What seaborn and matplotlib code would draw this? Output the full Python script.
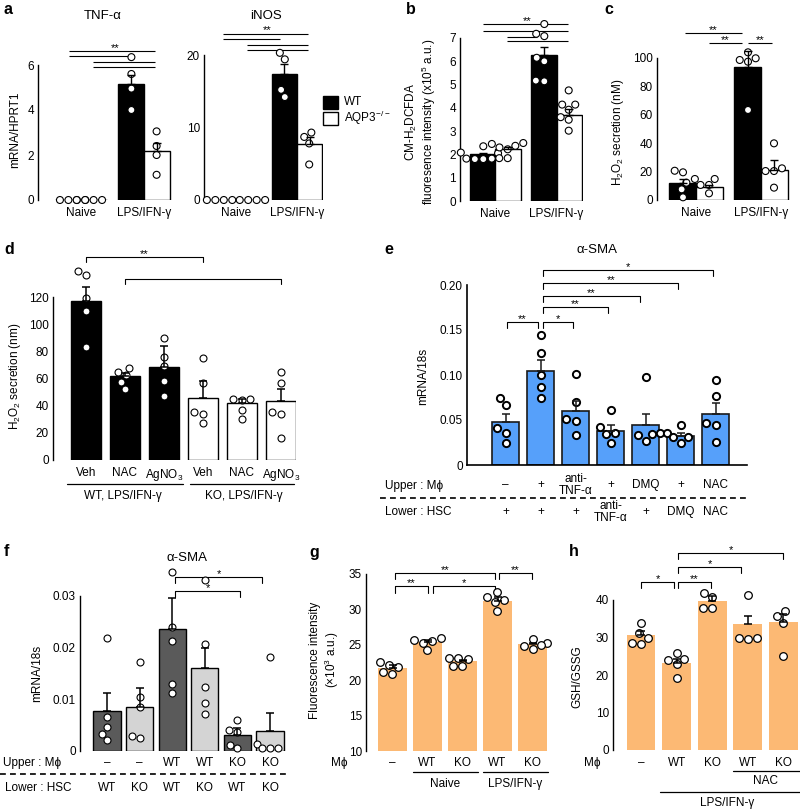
import numpy as np
import pandas as pd
import seaborn as sns
import matplotlib.pyplot as plt
from matplotlib.lines import Line2D
from matplotlib.patches import Rectangle
from matplotlib.transforms import blended_transform_factory

###############################################################################
# Values
###############################################################################

cond = ["Naive", "LPS/IFN-γ"]
geno = ["WT", "KO"]

# a: bar order = Naive WT, Naive KO, LPS WT, LPS KO
tnf_mean = [0.0, 0.0, 5.15, 2.17]
tnf_sem = [0.0, 0.0, 0.40, 0.38]
tnf_pts = [[0, 0, 0, 0], [0, 0, 0, 0], [6.35, 5.6, 4.95, 4.0], [3.05, 2.4, 2.0, 1.12]]

inos_mean = [0.0, 0.0, 17.4, 7.7]
inos_sem = [0.0, 0.0, 1.3, 1.0]
inos_pts = [[0, 0, 0, 0], [0, 0, 0, 0], [20.3, 19.4, 15.2, 14.2], [9.3, 8.7, 7.8, 4.9]]

# b
dcf_mean = [2.0, 2.23, 6.25, 3.71]
dcf_sem = [0.08, 0.09, 0.35, 0.24]
dcf_pts = [[2.35, 2.08, 2.05, 1.82, 1.8, 1.8, 1.82],
           [2.49, 2.45, 2.37, 2.30, 2.22, 1.84, 1.84],
           [7.6, 7.18, 7.08, 6.15, 6.0, 5.17, 5.14],
           [4.75, 4.14, 4.14, 3.92, 3.6, 3.49, 3.02]]

# c
c_mean = [12.2, 8.9, 93.9, 21.1]
c_sem = [2.6, 1.6, 11.1, 7.1]
c_pts = [[20.6, 19.5, 12.2, 7.5, 1.9], [14.8, 14.8, 10.6, 10.6, 4.7],
         [104, 99.8, 98.6, 97.4, 63.4], [39.9, 22.3, 20.4, 20.4, 8.7]]

# d
d_labels = ["Veh", "NAC", "AgNO$_3$", "Veh", "NAC", "AgNO$_3$"]
d_mean = [117, 61.5, 68.6, 45.8, 41.7, 43.4]
d_sem = [10, 2.2, 15.4, 12.5, 3.1, 8.8]
d_pts = [[139, 136, 119, 110, 83], [68, 64.5, 62.5, 57.6, 52.2], [90, 76, 69, 58, 47],
         [75, 57, 35, 34, 27], [44.7, 44.8, 44.1, 36.8, 30.1], [65, 57, 35, 34, 16]]

# e
e_mean = [0.048, 0.105, 0.060, 0.038, 0.044, 0.032, 0.057]
e_sem = [0.009, 0.012, 0.011, 0.006, 0.013, 0.004, 0.012]
e_pts = [[0.075, 0.067, 0.041, 0.036, 0.025], [0.144, 0.125, 0.100, 0.087, 0.075],
         [0.101, 0.070, 0.051, 0.049, 0.033], [0.061, 0.042, 0.036, 0.034, 0.025],
         [0.098, 0.036, 0.034, 0.033, 0.027], [0.044, 0.036, 0.031, 0.031, 0.025],
         [0.095, 0.077, 0.047, 0.044, 0.026]]
e_upper = ["–", "+", "anti-\nTNF-α", "+", "DMQ", "+", "NAC"]
e_lower = ["+", "+", "+", "anti-\nTNF-α", "+", "DMQ", "NAC"]

# f
f_mean = [0.0077, 0.0084, 0.0235, 0.0160, 0.0031, 0.0038]
f_sem = [0.0035, 0.0037, 0.0061, 0.0040, 0.0013, 0.0035]
f_pts = [[0.0218, 0.0066, 0.0046, 0.0033, 0.0021], [0.0172, 0.0103, 0.0085, 0.0029, 0.0024],
         [0.0347, 0.0240, 0.0213, 0.0130, 0.0112], [0.0331, 0.0206, 0.0123, 0.0092, 0.0070],
         [0.0059, 0.0040, 0.0036, 0.0011, 0.0005], [0.0181, 0.0012, 0.0004, 0.0004, 0.0005]]
f_upper = ["–", "–", "WT", "WT", "KO", "KO"]
f_lower = ["WT", "KO", "WT", "KO", "WT", "KO"]

# g
g_mean = [21.7, 25.4, 22.7, 31.2, 25.1]
g_sem = [0.4, 0.3, 0.2, 0.5, 0.2]
g_pts = [[22.6, 22.2, 21.9, 21.2, 20.9], [26.0, 25.7, 25.5, 25.3, 24.2],
         [23.1, 23.1, 23.0, 22.0, 22.0], [32.4, 31.7, 31.3, 31.0, 29.8],
         [25.8, 25.2, 25.0, 24.9, 24.4]]
g_mphi = ["–", "WT", "KO", "WT", "KO"]

# h
h_mean = [30.7, 23.1, 39.8, 33.5, 34.2]
h_sem = [1.1, 1.2, 1.3, 2.2, 2.1]
h_pts = [[33.8, 31.1, 30.0, 28.5, 28.3], [25.9, 24.2, 24.0, 22.9, 19.1],
         [41.9, 40.7, 37.8, 37.8], [41.3, 29.8, 29.8, 29.5], [37.1, 35.8, 34.0, 25.1]]
h_mphi = ["–", "WT", "KO", "WT", "KO"]

###############################################################################
# Style and helpers
###############################################################################

sns.set_theme(style="white", rc={"text.color": "black", "axes.edgecolor": "black",
                                 "xtick.color": "black", "ytick.color": "black",
                                 "axes.labelcolor": "black"})
plt.rcParams["font.family"] = ["Liberation Sans", "DejaVu Sans"]
plt.rcParams["mathtext.default"] = "regular"
plt.rcParams["axes.linewidth"] = 1.0

W, H = 800, 810
fig = plt.figure(figsize=(W / 100, H / 100), dpi=100)
FS = 8.5


def fx(px):
    return px / W


def fy(py):
    return 1 - py / H


def new_ax(x0, x1, y0, y1):
    return fig.add_axes([fx(x0), fy(y1), (x1 - x0) / W, (y1 - y0) / H])


def finish(ax, xlim, ylim, yticks, ylabels=None, bottom=False):
    ax.set_xlim(*xlim)
    ax.set_ylim(*ylim)
    ax.set_yticks(yticks)
    if ylabels is not None:
        ax.set_yticklabels(ylabels)
    ax.set_xlabel("")
    ax.set_ylabel("")
    for s in ["top", "right"]:
        ax.spines[s].set_visible(False)
    ax.spines["bottom"].set_visible(bottom)
    ax.tick_params(axis="y", direction="in", length=5, width=1, labelsize=FS, pad=3)
    ax.tick_params(axis="x", length=0, labelsize=FS, pad=5)
    ax.patch.set_visible(False)


def errbars(ax, xpos, means, sems, color="black", lw=1.0):
    xpos, means, sems = np.asarray(xpos, float), np.asarray(means, float), np.asarray(sems, float)
    keep = sems > 0
    cont = ax.errorbar(xpos[keep], means[keep], yerr=[np.zeros(keep.sum()), sems[keep]],
                       fmt="none", ecolor=color, elinewidth=lw, capsize=3.2, capthick=lw, zorder=4)
    for art in list(cont[1]) + list(cont[2]):
        art.set_clip_on(False)


def paired(ax, means, sems, pts, width):
    bars = pd.DataFrame({"cond": np.repeat(cond, 2), "geno": geno * 2, "val": means})
    sns.barplot(data=bars, x="cond", y="val", hue="geno", order=cond, hue_order=geno,
                palette={"WT": "black", "KO": "white"}, saturation=1, width=width,
                edgecolor="black", linewidth=1, errorbar=None, legend=False, ax=ax)
    lab_c, lab_g, vals = [], [], []
    for i, p in enumerate(pts):
        lab_c += [cond[i // 2]] * len(p)
        lab_g += [geno[i % 2]] * len(p)
        vals += list(p)
    dots = pd.DataFrame({"cond": lab_c, "geno": lab_g, "val": vals})
    sns.swarmplot(data=dots, x="cond", y="val", hue="geno", order=cond, hue_order=geno,
                  dodge=True, palette={"WT": "white", "KO": "white"}, size=5,
                  edgecolor="black", linewidth=0.8, legend=False, clip_on=False,
                  zorder=3, ax=ax)
    xpos = np.array([0, 0, 1, 1]) + np.array([-1, 1, -1, 1]) * width / 4
    errbars(ax, xpos, means, sems)


def flat(ax, means, sems, pts, colors, width, edge="black", lw=1.0, dsize=5, dlw=0.8,
         ecol="black"):
    keys = [str(i) for i in range(len(means))]
    bars = pd.DataFrame({"k": keys, "val": means})
    if isinstance(colors, str):
        sns.barplot(data=bars, x="k", y="val", order=keys, color=colors, saturation=1,
                    width=width, edgecolor=edge, linewidth=lw, errorbar=None, ax=ax)
    else:
        sns.barplot(data=bars, x="k", y="val", hue="k", order=keys,
                    palette=dict(zip(keys, colors)), saturation=1, width=width,
                    edgecolor=edge, linewidth=lw, errorbar=None, legend=False, ax=ax)
    dots = pd.DataFrame({"k": [keys[i] for i, p in enumerate(pts) for _ in p],
                         "val": [v for p in pts for v in p]})
    sns.swarmplot(data=dots, x="k", y="val", order=keys, color="white", size=dsize,
                  edgecolor="black", linewidth=dlw, clip_on=False, zorder=3, ax=ax)
    errbars(ax, np.arange(len(means)), means, sems, color=ecol, lw=1.1)


def xl(x0, x1, c0, unit):
    # x limits so that category 0 falls at pixel c0 with "unit" pixels per category
    return ((x0 - c0) / unit, (x1 - c0) / unit)


def hline(ax, x0, x1, y):
    ax.plot([x0, x1], [y, y], color="black", lw=0.8, clip_on=False, solid_capstyle="butt")


def bracket(ax, x0, x1, y, drop, text=None):
    ax.plot([x0, x0, x1, x1], [y - drop, y, y, y - drop], color="black", lw=0.8,
            clip_on=False)
    if text:
        ax.text((x0 + x1) / 2, y, text, ha="center", va="baseline", fontsize=8)


def stars(ax, x, y, text="**"):
    ax.text(x, y, text, ha="center", va="baseline", fontsize=8)


def row_text(ax, labels, y_px):
    tr = blended_transform_factory(ax.transData, fig.transFigure)
    for i, s in enumerate(labels):
        ax.text(i, fy(y_px), s, transform=tr, ha="center", va="center", fontsize=FS,
                linespacing=0.95)


def group_line(ax, x0, x1, y_px, text=None, text_x=None, text_y=None):
    tr = blended_transform_factory(ax.transData, fig.transFigure)
    ax.add_line(Line2D([x0, x1], [fy(y_px)] * 2, transform=tr, color="black", lw=0.9,
                       clip_on=False))
    if text:
        ax.text(text_x, fy(text_y), text, transform=tr, ha="center", va="center", fontsize=FS)


def ylab(x_px, y_px, s):
    fig.text(fx(x_px), fy(y_px), s, rotation=90, ha="center", va="center", fontsize=FS,
             multialignment="center", linespacing=1.1)


def letter(x_px, y_px, s):
    fig.text(fx(x_px), fy(y_px), s, ha="left", va="center", fontsize=11.5, fontweight="bold")


###############################################################################
# a
###############################################################################
ax = new_ax(38, 172, 65, 200)
paired(ax, tnf_mean, tnf_sem, tnf_pts, 0.83)
finish(ax, xl(38, 172, 81, 63), (0, 6), [0, 2, 4, 6])
ax.set_xticks([0, 1])
ax.set_xticklabels(cond)
for x0, x1, y in [(-0.19, 1.17, 6.62), (-0.19, 0.75, 6.4), (0.19, 1.17, 6.13), (0.19, 1.17, 5.91)]:
    hline(ax, x0, x1, y)
stars(ax, 0.54, 6.64)
fig.text(fx(103), fy(16), "TNF-α", ha="center", va="center", fontsize=9.5)
ylab(15, 130, "mRNA/HPRT1")
letter(3, 9, "a")

ax = new_ax(204, 323, 55, 200)
paired(ax, inos_mean, inos_sem, inos_pts, 0.82)
finish(ax, xl(204, 323, 236, 61), (0, 20), [0, 10, 20])
ax.set_xticks([0, 1])
ax.set_xticklabels(cond)
for x0, x1, y in [(-0.21, 1.18, 22.9), (-0.21, 0.72, 22.2), (0.18, 1.18, 21.4), (0.18, 1.18, 20.7)]:
    hline(ax, x0, x1, y)
stars(ax, 0.51, 23.0)
fig.text(fx(266), fy(16), "iNOS", ha="center", va="center", fontsize=9.5)

# legend
fig.add_artist(Rectangle((fx(323), fy(109)), 15 / W, 13 / H, facecolor="black",
                         edgecolor="black", lw=1, transform=fig.transFigure))
fig.add_artist(Rectangle((fx(323), fy(125)), 15 / W, 13 / H, facecolor="white",
                         edgecolor="black", lw=1, transform=fig.transFigure))
fig.text(fx(344), fy(102), "WT", va="center", fontsize=FS)
fig.text(fx(344), fy(118), "AQP3$^{-/-}$", va="center", fontsize=FS)

###############################################################################
# b
###############################################################################
ax = new_ax(460, 583, 38, 201)
paired(ax, dcf_mean, dcf_sem, dcf_pts, 0.85)
finish(ax, xl(460, 583, 495.5, 61), (0, 7), range(8))
ax.set_xticks([0, 1])
ax.set_xticklabels(cond)
for x0, x1, y in [(-0.2, 1.19, 7.59), (-0.2, 1.19, 7.28), (0.19, 0.68, 7.03), (0.19, 1.19, 6.85)]:
    hline(ax, x0, x1, y)
stars(ax, 0.52, 7.6)
ylab(421, 122, "CM-H$_2$DCFDA\nfluoresence intensity (x10$^5$ a.u.)")
letter(406, 9, "b")

###############################################################################
# c
###############################################################################
ax = new_ax(657, 790, 58, 200)
paired(ax, c_mean, c_sem, c_pts, 0.83)
finish(ax, xl(657, 790, 696, 65), (0, 100), range(0, 101, 20))
ax.set_xticks([0, 1])
ax.set_xticklabels(cond)
for x0, x1, y in [(-0.17, 0.71, 117.6), (0.2, 0.71, 110.6), (0.8, 1.17, 110.6)]:
    hline(ax, x0, x1, y)
    stars(ax, (x0 + x1) / 2, y)
ylab(618, 132, "H$_2$O$_2$ secretion (nM)")
letter(604, 9, "c")

###############################################################################
# d
###############################################################################
ax = new_ax(53, 296, 297, 460)
flat(ax, d_mean, d_sem, d_pts, ["black"] * 3 + ["white"] * 3, 0.77)
finish(ax, xl(53, 296, 85.7, 39), (0, 120), range(0, 121, 20))
ax.set_xticks(range(6))
ax.set_xticklabels(d_labels)
bracket(ax, 0, 3, 149.3, 3.7, "**")
bracket(ax, 1, 5, 133, 3.7)
group_line(ax, -0.48, 2.5, 484, "WT, LPS/IFN-γ", 0.95, 496)
group_line(ax, 2.67, 5.35, 484, "KO, LPS/IFN-γ", 4.05, 496)
ylab(15, 376, "H$_2$O$_2$ secretion (nm)")
letter(4, 250, "d")

###############################################################################
# e
###############################################################################
ax = new_ax(467, 747, 285, 465)
flat(ax, e_mean, e_sem, e_pts, "#56a0fa", 0.79, edge="#1a1a1a", lw=1.2, dsize=5.2, dlw=1.4,
     ecol="#1a1a1a")
finish(ax, xl(467, 747, 505.5, 35), (0, 0.2), [0, 0.05, 0.10, 0.15, 0.20],
       ["0", "0.05", "0.10", "0.15", "0.20"], bottom=True)
ax.spines["bottom"].set_linewidth(1.2)
ax.spines["left"].set_linewidth(1.2)
ax.set_xticks([])
bracket(ax, 0.05, 0.93, 0.159, 0.0067, "**")
bracket(ax, 1.07, 1.93, 0.159, 0.0067, "*")
bracket(ax, 1.07, 2.93, 0.1756, 0.0067, "**")
bracket(ax, 1.07, 3.84, 0.1878, 0.0067, "**")
bracket(ax, 1.07, 4.94, 0.2022, 0.0067, "**")
bracket(ax, 1.07, 5.93, 0.2167, 0.0067, "*")
fig.text(fx(597), fy(250), "α-SMA", ha="center", va="center", fontsize=9.5)
ylab(423, 376, "mRNA/18s")
letter(384, 250, "e")
fig.text(fx(385), fy(486), "Upper : M\u03d5", ha="left", va="center", fontsize=FS)
fig.text(fx(385), fy(512), "Lower : HSC", ha="left", va="center", fontsize=FS)
row_text(ax, e_upper, 485)
row_text(ax, e_lower, 512)
fig.add_artist(Line2D([fx(380), fx(748)], [fy(498)] * 2, color="black", lw=1.2,
                      ls=(0, (3.5, 2.5))))

###############################################################################
# f
###############################################################################
ax = new_ax(80, 288, 596, 750.5)
flat(ax, f_mean, f_sem, f_pts, ["#5a5a5a", "#d4d4d4"] * 3, 0.83)
finish(ax, xl(80, 288, 107, 32.6), (0, 0.03), [0, 0.01, 0.02, 0.03],
       ["0", "0.01", "0.02", "0.03"])
ax.set_xticks([])
bracket(ax, 2.09, 4.75, 0.0337, 0.0012, "*")
bracket(ax, 2.09, 4.08, 0.0310, 0.0012, "*")
fig.text(fx(187), fy(558), "α-SMA", ha="center", va="center", fontsize=9.5)
ylab(37, 673, "mRNA/18s")
letter(4, 552, "f")
fig.text(fx(3), fy(763), "Upper : M\u03d5", ha="left", va="center", fontsize=FS)
fig.text(fx(5), fy(788), "Lower : HSC", ha="left", va="center", fontsize=FS)
row_text(ax, f_upper, 763)
row_text(ax, f_lower, 788)
fig.add_artist(Line2D([fx(0), fx(287)], [fy(774)] * 2, color="black", lw=1.2,
                      ls=(0, (3.5, 2.5))))

###############################################################################
# g
###############################################################################
ax = new_ax(366, 549, 574, 751)
flat(ax, g_mean, g_sem, g_pts, "#fcb974", 0.84, lw=0, dsize=5.5, dlw=0.9)
finish(ax, xl(366, 549, 392.5, 35), (10, 35), range(10, 36, 5))
ax.set_xticks([])
bracket(ax, 0.07, 1.01, 33.3, 0.95, "**")
bracket(ax, 1.16, 2.93, 33.3, 0.95, "*")
bracket(ax, 0.07, 2.93, 35.2, 0.9, "**")
bracket(ax, 3.04, 3.99, 35.2, 0.9, "**")
ylab(325, 660, "Fluorescence intensity\n(×10$^3$ a.u.)")
letter(309, 552, "g")
fig.text(fx(339), fy(763), "M\u03d5", ha="center", va="center", fontsize=FS)
row_text(ax, g_mphi, 763)
group_line(ax, 0.59, 2.44, 772, "Naive", 1.5, 784)
group_line(ax, 2.59, 4.44, 772, "LPS/IFN-γ", 3.5, 784)

###############################################################################
# h
###############################################################################
ax = new_ax(613, 800, 600, 750)
flat(ax, h_mean, h_sem, h_pts, "#fcb974", 0.81, lw=0, dsize=5.5, dlw=0.9)
finish(ax, xl(613, 800, 641, 35.6), (0, 40), range(0, 41, 10))
ax.set_xticks([])
bracket(ax, 0.0, 0.93, 44.8, 1.6, "*")
bracket(ax, 1.04, 1.97, 44.8, 1.6, "**")
bracket(ax, 1.04, 2.81, 48.8, 1.6, "*")
bracket(ax, 1.04, 3.99, 52.5, 1.6, "*")
ylab(577, 677, "GSH/GSSG")
letter(569, 552, "h")
fig.text(fx(592), fy(763), "M\u03d5", ha="center", va="center", fontsize=FS)
row_text(ax, h_mphi, 763)
group_line(ax, 2.58, 4.47, 771, "NAC", 3.51, 781)
group_line(ax, 0.53, 4.47, 792, "LPS/IFN-γ", 2.42, 803)

fig.savefig("out.png", dpi=100)
